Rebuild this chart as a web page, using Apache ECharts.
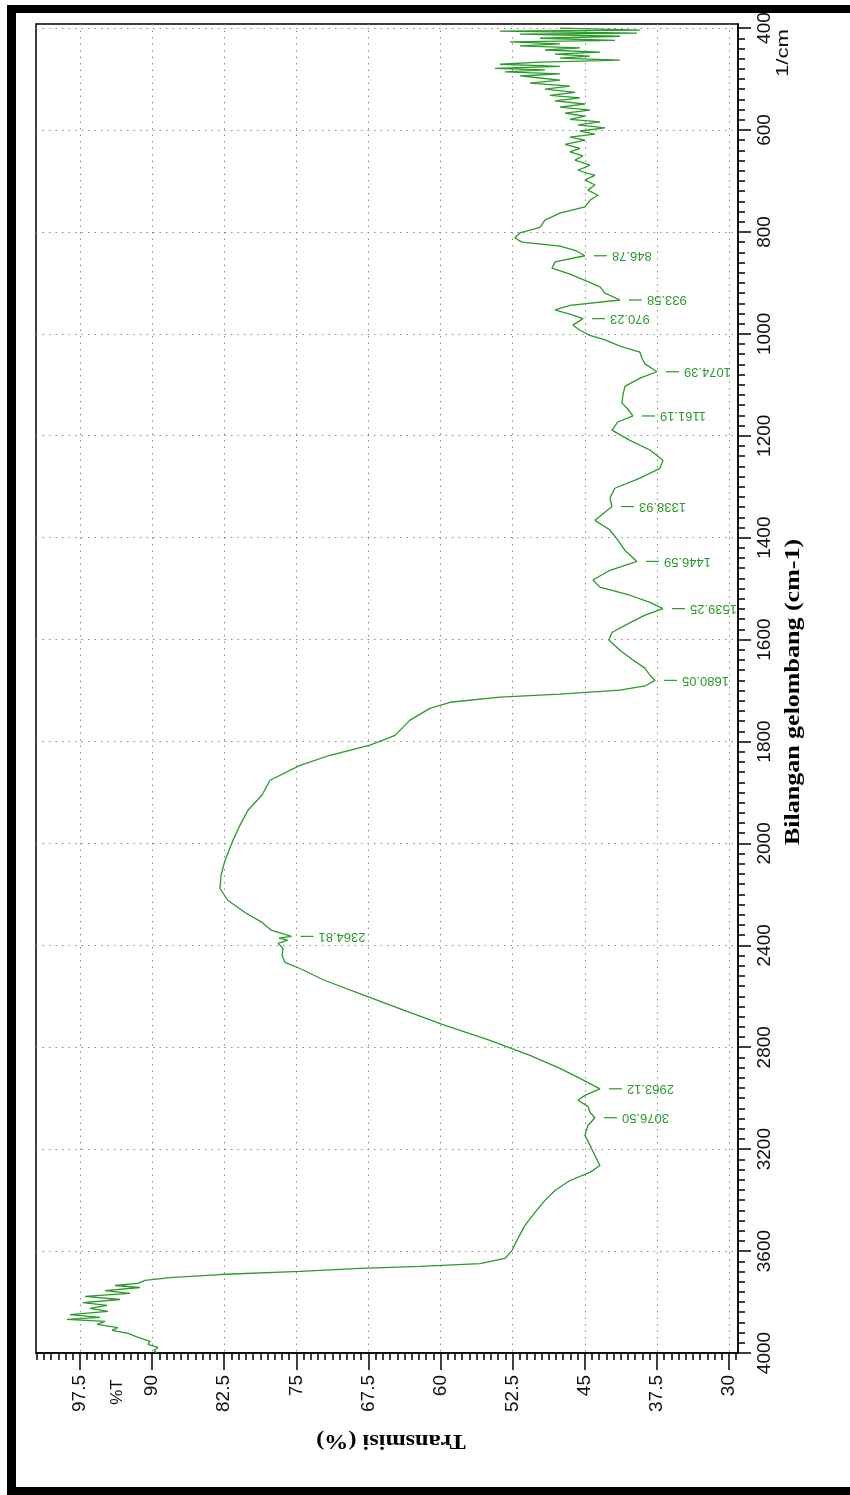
<!DOCTYPE html>
<html>
<head>
<meta charset="utf-8">
<script src="https://cdn.jsdelivr.net/npm/echarts@6/dist/echarts.min.js"></script>
<style>
  html, body { margin: 0; padding: 0; background: #fff; overflow: hidden; }
  #chart { width: 850px; height: 1495px; }
</style>
</head>
<body>
<div id="chart"></div>
<script>
// FTIR spectrum: wavenumber (cm-1) and transmittance (%T)
const wavenumber = [
  400, 404, 406, 410, 412, 416, 420, 424, 427, 431, 435, 439, 443, 447, 451, 455, 459, 463, 467, 471,
  475, 479, 482, 486, 490, 494, 498, 502, 508, 514, 520, 526, 532, 537, 543, 549, 555, 561, 567, 573,
  579, 584, 590, 596, 602, 608, 614, 620, 628, 636, 643, 651, 659, 669, 679, 689, 698, 708, 718, 728,
  738, 751, 763, 777, 791, 802, 812, 820, 828, 836, 846.78, 859, 871, 883, 895, 908, 920, 933.58, 944, 953,
  963, 970.23, 983, 993, 1003, 1012, 1024, 1036, 1048, 1059, 1074.39, 1087, 1103, 1120, 1136, 1148, 1161.19, 1173, 1189, 1209,
  1228, 1248, 1264, 1283, 1303, 1322, 1338.93, 1350, 1366, 1385, 1405, 1425, 1446.59, 1464, 1483, 1497, 1513, 1527, 1539.25, 1552,
  1572, 1586, 1601, 1621, 1640, 1656, 1670, 1680.05, 1691, 1699, 1707, 1713, 1723, 1735, 1758, 1788, 1807, 1827, 1847, 1876,
  1905, 1935, 1964, 1994, 2027, 2067, 2126, 2177, 2224, 2271, 2310, 2340, 2364.81, 2372, 2380, 2392, 2412, 2440, 2467, 2491,
  2538, 2597, 2656, 2714, 2773, 2832, 2883, 2922, 2963.12, 2989, 3008, 3032, 3055, 3076.50, 3107, 3146, 3185, 3225, 3264, 3291,
  3323, 3362, 3401, 3448, 3499, 3550, 3598, 3629, 3649, 3660, 3668, 3680, 3692, 3704, 3715, 3727, 3735, 3743, 3755, 3766,
  3778, 3790, 3802, 3813, 3825, 3837, 3849, 3860, 3868, 3876, 3888, 3900, 3911, 3923, 3939, 3954, 3966, 3978, 3990, 4000
];
const transmittance = [
  47.58, 39.26, 53.82, 39.57, 51.74, 41.34, 49.66, 41.86, 52.78, 47.58, 51.74, 45.50, 49.14, 43.42, 48.10, 44.46, 47.58, 41.34, 49.66, 53.82,
  47.58, 54.34, 49.14, 53.30, 47.58, 51.74, 49.66, 47.58, 50.70, 46.54, 49.14, 46.02, 48.62, 45.50, 48.10, 44.98, 47.58, 44.46, 47.06, 44.98,
  46.54, 43.42, 45.71, 42.90, 45.50, 43.94, 46.54, 44.98, 47.06, 45.50, 46.54, 45.19, 46.02, 44.46, 45.71, 43.94, 44.98, 43.94, 44.67, 43.63,
  44.46, 44.98, 47.58, 49.14, 49.66, 51.74, 52.26, 51.53, 47.58, 46.02, 44.98, 48.10, 48.41, 46.54, 44.98, 43.42, 42.90, 41.34, 46.54, 48.10,
  46.30, 45.19, 46.23, 45.50, 44.46, 42.90, 41.34, 39.26, 39.05, 38.74, 37.49, 39.26, 40.82, 41.03, 41.13, 40.51, 39.99, 41.55, 42.17, 40.30,
  38.22, 36.87, 37.18, 39.26, 41.86, 42.38, 42.17, 42.90, 43.94, 42.38, 41.55, 40.82, 39.57, 42.38, 44.15, 43.42, 40.30, 38.22, 36.87, 38.74,
  40.82, 42.17, 42.49, 41.34, 39.99, 38.74, 38.22, 37.70, 38.74, 41.34, 47.58, 53.82, 59.02, 61.10, 63.18, 64.74, 67.34, 71.50, 74.62, 77.74,
  78.57, 80.03, 80.86, 81.59, 82.00, 82.42, 82.84, 82.94, 82.11, 80.34, 78.57, 77.64, 75.50, 76.80, 75.90, 76.90, 76.39, 76.49, 76.18, 74.62,
  72.02, 67.86, 63.70, 59.54, 54.86, 50.70, 47.58, 45.50, 43.42, 44.98, 45.71, 44.67, 44.46, 43.94, 44.67, 44.98, 44.46, 43.94, 43.42, 44.46,
  46.54, 48.10, 49.14, 50.18, 51.22, 51.95, 52.57, 53.30, 55.90, 62.14, 68.38, 74.62, 82.94, 88.14, 90.74, 91.47, 93.86, 91.26, 94.90, 92.30,
  96.98, 93.34, 97.19, 94.69, 96.46, 94.59, 98.54, 95.42, 98.85, 94.90, 95.73, 93.55, 94.17, 92.51, 91.47, 90.22, 90.43, 89.39, 89.81, 89.49
];

// labelled absorption peaks
const peakWavenumbers = [846.78, 933.58, 970.23, 1074.39, 1161.19, 1338.93, 1446.59, 1539.25, 1680.05, 2364.81, 2963.12, 3076.50];
const peakLabels = ['846.78', '933.58', '970.23', '1074.39', '1161.19', '1338.93', '1446.59', '1539.25', '1680.05', '2364.81', '2963.12', '3076.50'];

// axis ticks
const transmittanceTicks = [30, 37.5, 45, 52.5, 60, 67.5, 75, 82.5, 90, 97.5];
const wavenumberTicks = [400, 600, 800, 1000, 1200, 1400, 1600, 1800, 2000, 2400, 2800, 3200, 3600, 4000];

const T_MIN = 29.06, T_MAX = 102.08;
const WN_MIN = -0.04, WN_MAX = 13;
const GREEN = '#2a9a2a';

// Wavenumber scale is stretched two-fold below 2000 cm-1
function toScale(w) { return w <= 2000 ? (w - 400) / 200 : 8 + (w - 2000) / 400; }
function fromScale(t) { return t <= 8 ? Math.round(400 + 200 * t) : Math.round(2000 + 400 * (t - 8)); }

const lineData = wavenumber.map((w, i) => [transmittance[i], toScale(w)]);
const peakData = peakWavenumbers.map(w => [transmittance[wavenumber.indexOf(w)], toScale(w)]);

const wnTickPos = wavenumberTicks.map(toScale);
const wnMinor = [];
for (let k = 0; k <= 130; k++) wnMinor.push(k / 10);
const tMinor = [];
for (let k = 0; 29.25 + k * 0.75 <= T_MAX; k++) tMinor.push(+(29.25 + k * 0.75).toFixed(2));

const GRID = { left: 36, right: 112, top: 24, bottom: 142 };

const axisBlack = { color: '#000', width: 1.5 };
const dotted = { color: '#8a8a8a', width: 1, type: [1.5, 5] };
const labelFont = '"Liberation Sans", Arial, sans-serif';

const chart = echarts.init(document.getElementById('chart'), null, { renderer: 'canvas' });
chart.setOption({
  animation: false,
  backgroundColor: '#fff',
  grid: [
    Object.assign({ show: true, borderColor: '#000', borderWidth: 1.5, backgroundColor: '#fff' }, GRID),
    // same rectangle, carries the minor tick marks only
    Object.assign({ show: false }, GRID)
  ],
  xAxis: [
    {
      gridIndex: 0, type: 'value', min: T_MIN, max: T_MAX, inverse: true, position: 'bottom',
      axisLine: { show: true, onZero: false, lineStyle: axisBlack },
      axisTick: { show: true, customValues: transmittanceTicks, length: 17, lineStyle: axisBlack },
      axisLabel: {
        customValues: transmittanceTicks, rotate: 90, margin: 22, fontSize: 19,
        fontFamily: labelFont, color: '#111', formatter: v => String(v)
      },
      splitLine: { show: true, lineStyle: dotted }
    },
    {
      gridIndex: 1, type: 'value', min: T_MIN, max: T_MAX, inverse: true, position: 'bottom',
      axisLine: { show: false, onZero: false },
      axisTick: { show: true, customValues: tMinor, length: 7, lineStyle: axisBlack },
      axisLabel: { show: false },
      splitLine: { show: false }
    }
  ],
  yAxis: [
    {
      gridIndex: 0, type: 'value', min: WN_MIN, max: WN_MAX, inverse: true, position: 'right',
      axisLine: { show: true, onZero: false, lineStyle: axisBlack },
      axisTick: { show: true, customValues: wnTickPos, length: 13, lineStyle: axisBlack },
      axisLabel: {
        customValues: wnTickPos, rotate: 90, margin: 17, fontSize: 19,
        fontFamily: labelFont, color: '#111', formatter: v => String(fromScale(v))
      },
      splitLine: { show: true, lineStyle: dotted }
    },
    {
      gridIndex: 1, type: 'value', min: WN_MIN, max: WN_MAX, inverse: true, position: 'right',
      axisLine: { show: false, onZero: false },
      axisTick: { show: true, customValues: wnMinor, length: 7, lineStyle: axisBlack },
      axisLabel: { show: false },
      splitLine: { show: false }
    }
  ],
  series: [
    {
      type: 'line', xAxisIndex: 0, yAxisIndex: 0, data: lineData,
      showSymbol: false, symbol: 'none', clip: true,
      lineStyle: { color: GREEN, width: 1.3 }, z: 3
    },
    {
      type: 'custom', xAxisIndex: 0, yAxisIndex: 0, data: peakData, z: 4,
      renderItem: function (params, api) {
        const p = api.coord([api.value(0), api.value(1)]);
        return {
          type: 'group',
          children: [
            { type: 'line', shape: { x1: p[0] + 9, y1: p[1], x2: p[0] + 22, y2: p[1] }, style: { stroke: GREEN, lineWidth: 1.2 } },
            {
              type: 'text', x: p[0] + 27, y: p[1], rotation: Math.PI,
              style: { text: peakLabels[params.dataIndex], fill: GREEN, font: '13px ' + labelFont, align: 'right', verticalAlign: 'middle' }
            }
          ]
        };
      }
    }
  ],
  graphic: [
    {
      type: 'text', x: 794, y: 692, rotation: Math.PI / 2, scaleX: 1.3,
      style: { text: 'Bilangan gelombang (cm-1)', font: 'bold 20px "Liberation Serif", "Times New Roman", serif', fill: '#000', align: 'center', verticalAlign: 'middle' }
    },
    {
      type: 'text', x: 391, y: 1441, rotation: Math.PI, scaleX: 1.1,
      style: { text: 'Transmisi (%)', font: 'bold 22px "Liberation Serif", "Times New Roman", serif', fill: '#000', align: 'center', verticalAlign: 'middle' }
    },
    {
      type: 'text', x: 117, y: 1392, rotation: Math.PI / 2,
      style: { text: '%T', font: '17px ' + labelFont, fill: '#111', align: 'center', verticalAlign: 'middle' }
    },
    {
      type: 'text', x: 783, y: 53, rotation: Math.PI / 2, scaleX: 1.3,
      style: { text: '1/cm', font: '17px ' + labelFont, fill: '#111', align: 'center', verticalAlign: 'middle' }
    },
    // black page frame: top, left and bottom bands
    { type: 'rect', z: 100, silent: true, shape: { x: 7, y: 5, width: 843, height: 8 }, style: { fill: '#000' } },
    { type: 'rect', z: 100, silent: true, shape: { x: 7, y: 5, width: 9, height: 1490 }, style: { fill: '#000' } },
    { type: 'rect', z: 100, silent: true, shape: { x: 7, y: 1487, width: 843, height: 8 }, style: { fill: '#000' } }
  ]
});
</script>
</body>
</html>
